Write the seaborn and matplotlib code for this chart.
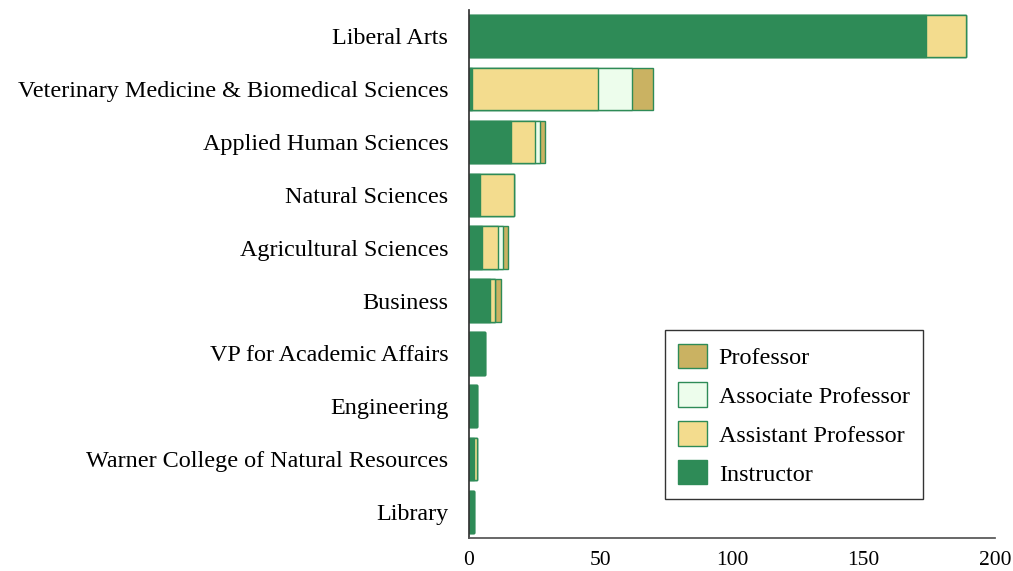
import numpy as np
import pandas as pd
import matplotlib
matplotlib.use("Agg")
import matplotlib.pyplot as plt
import seaborn as sns
from matplotlib.patches import Patch

colleges = [
    "Liberal Arts",
    "Veterinary Medicine & Biomedical Sciences",
    "Applied Human Sciences",
    "Natural Sciences",
    "Agricultural Sciences",
    "Business",
    "VP for Academic Affairs",
    "Engineering",
    "Warner College of Natural Resources",
    "Library",
]
instructor = [174, 1, 16, 4, 5, 8, 6, 3, 2, 2]
assistant = [15, 48, 9, 13, 6, 2, 0, 0, 1, 0]
associate = [0, 13, 2, 0, 2, 0, 0, 0, 0, 0]
professor = [0, 8, 2, 0, 2, 2, 0, 0, 0, 0]

ranks = ["Instructor", "Assistant Professor", "Associate Professor", "Professor"]
colors = {
    "Instructor": "#2e8b57",
    "Assistant Professor": "#f3dc8e",
    "Associate Professor": "#edfdec",
    "Professor": "#cab262",
}
edge = "#2e8b57"

df = pd.DataFrame({
    "college": colleges,
    "Instructor": instructor,
    "Assistant Professor": assistant,
    "Associate Professor": associate,
    "Professor": professor,
})
cum = df[ranks].cumsum(axis=1)

sns.set_theme(style="white")
plt.rcParams["font.family"] = ["Liberation Serif", "DejaVu Serif"]

fig, ax = plt.subplots(figsize=(10.13, 5.71), dpi=100)
fig.subplots_adjust(left=0.463, right=0.982, top=0.983, bottom=0.057)

# stacked bars: draw the cumulative totals from the outermost segment inwards
for rank in reversed(ranks):
    sns.barplot(x=cum[rank], y=df["college"], color=colors[rank], ax=ax,
                orient="h", width=0.8, edgecolor=edge, linewidth=1.0,
                saturation=1)

ax.set_xlim(0, 200)
ax.set_xticks([0, 50, 100, 150, 200])
ax.set_xlabel("")
ax.set_ylabel("")
ax.tick_params(axis="x", labelsize=15.5, length=0, pad=9, colors="black")
ax.tick_params(axis="y", labelsize=17.4, length=0, pad=15, colors="black")
sns.despine(ax=ax)
ax.spines["left"].set_color("#333333")
ax.spines["bottom"].set_color("#555555")

handles = [Patch(facecolor=colors[r], edgecolor=edge, label=r) for r in reversed(ranks)]
leg = ax.legend(handles=handles, loc="lower left", bbox_to_anchor=(0.373, 0.075),
                fontsize=17.4, frameon=True, fancybox=False, edgecolor="black",
                handlelength=1.17, handleheight=1.17, labelspacing=0.56,
                borderpad=0.55, handletextpad=0.5, borderaxespad=0,
                labelcolor="black")
leg.get_frame().set_linewidth(1.0)

fig.savefig("out.png", dpi=100)
